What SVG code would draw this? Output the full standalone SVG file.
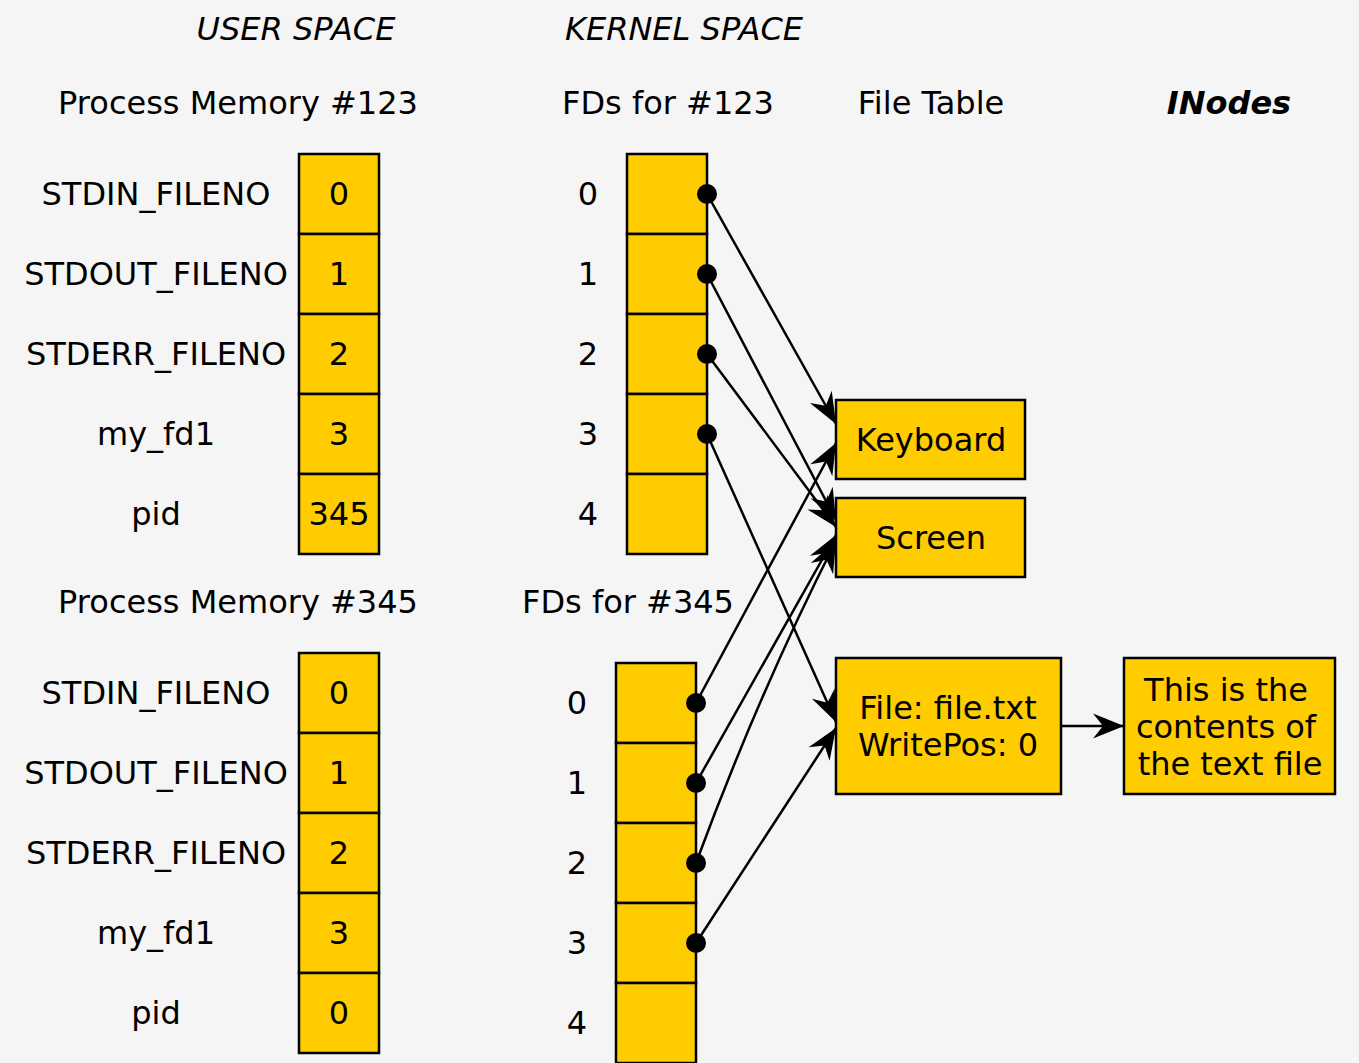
<svg xmlns="http://www.w3.org/2000/svg" width="1359" height="1063" viewBox="0 0 1359 1063">
<style>
text{font-family:"DejaVu Sans","Bitstream Vera Sans",sans-serif;font-size:32px;fill:#000}
.c{text-anchor:middle}
.cell{fill:#ffcc00;stroke:#000;stroke-width:2.5}
.box{fill:#ffcc00;stroke:#000;stroke-width:2.5}
.ln{fill:none;stroke:#000;stroke-width:2.5;marker-end:url(#ah)}
.dot{fill:#000}
</style>
<defs>
<marker id="ah" viewBox="-34 -15 36 30" refX="0" refY="0" markerWidth="36" markerHeight="30" markerUnits="userSpaceOnUse" orient="auto">
<path d="M0,0 L-31,-12.5 L-21,0 L-31,12.5 Z" fill="#000"/>
</marker>
</defs>
<rect width="1359" height="1063" fill="#f5f5f5"/>

<g id="headers">
<text x="296" y="40" class="c" font-style="italic">USER SPACE</text>
<text x="684" y="40" class="c" font-style="italic">KERNEL SPACE</text>
<text x="238" y="114" class="c">Process Memory #123</text>
<text x="668" y="114" class="c">FDs for #123</text>
<text x="931" y="114" class="c">File Table</text>
<text x="1229" y="114" class="c" font-style="italic" font-weight="bold">INodes</text>
<text x="238" y="613" class="c">Process Memory #345</text>
<text x="628" y="613" class="c">FDs for #345</text>
</g>

<g id="mem123">
<rect class="cell" x="299" y="154" width="80" height="80"/>
<rect class="cell" x="299" y="234" width="80" height="80"/>
<rect class="cell" x="299" y="314" width="80" height="80"/>
<rect class="cell" x="299" y="394" width="80" height="80"/>
<rect class="cell" x="299" y="474" width="80" height="80"/>
<text x="339" y="205" class="c">0</text>
<text x="339" y="285" class="c">1</text>
<text x="339" y="365" class="c">2</text>
<text x="339" y="445" class="c">3</text>
<text x="339" y="525" class="c">345</text>
<text x="156" y="205" class="c">STDIN_FILENO</text>
<text x="156" y="285" class="c">STDOUT_FILENO</text>
<text x="156" y="365" class="c">STDERR_FILENO</text>
<text x="156" y="445" class="c">my_fd1</text>
<text x="156" y="525" class="c">pid</text>
</g>

<g id="mem345">
<rect class="cell" x="299" y="653" width="80" height="80"/>
<rect class="cell" x="299" y="733" width="80" height="80"/>
<rect class="cell" x="299" y="813" width="80" height="80"/>
<rect class="cell" x="299" y="893" width="80" height="80"/>
<rect class="cell" x="299" y="973" width="80" height="80"/>
<text x="339" y="704" class="c">0</text>
<text x="339" y="784" class="c">1</text>
<text x="339" y="864" class="c">2</text>
<text x="339" y="944" class="c">3</text>
<text x="339" y="1024" class="c">0</text>
<text x="156" y="704" class="c">STDIN_FILENO</text>
<text x="156" y="784" class="c">STDOUT_FILENO</text>
<text x="156" y="864" class="c">STDERR_FILENO</text>
<text x="156" y="944" class="c">my_fd1</text>
<text x="156" y="1024" class="c">pid</text>
</g>

<g id="fds123">
<rect class="cell" x="627" y="154" width="80" height="80"/>
<rect class="cell" x="627" y="234" width="80" height="80"/>
<rect class="cell" x="627" y="314" width="80" height="80"/>
<rect class="cell" x="627" y="394" width="80" height="80"/>
<rect class="cell" x="627" y="474" width="80" height="80"/>
<text x="588" y="205" class="c">0</text>
<text x="588" y="285" class="c">1</text>
<text x="588" y="365" class="c">2</text>
<text x="588" y="445" class="c">3</text>
<text x="588" y="525" class="c">4</text>
</g>

<g id="fds345">
<rect class="cell" x="616" y="663" width="80" height="80"/>
<rect class="cell" x="616" y="743" width="80" height="80"/>
<rect class="cell" x="616" y="823" width="80" height="80"/>
<rect class="cell" x="616" y="903" width="80" height="80"/>
<rect class="cell" x="616" y="983" width="80" height="80"/>
<text x="577" y="714" class="c">0</text>
<text x="577" y="794" class="c">1</text>
<text x="577" y="874" class="c">2</text>
<text x="577" y="954" class="c">3</text>
<text x="577" y="1034" class="c">4</text>
</g>

<g id="keyboard">
<rect class="box" x="836" y="400" width="189" height="79"/>
<text x="931" y="451" class="c">Keyboard</text>
</g>
<g id="screen">
<rect class="box" x="836" y="498" width="189" height="79"/>
<text x="931" y="549" class="c">Screen</text>
</g>
<g id="file">
<rect class="box" x="836" y="658" width="225" height="136"/>
<text x="948" y="719" class="c">File: file.txt</text>
<text x="948" y="756" class="c">WritePos: 0</text>
</g>
<g id="inode">
<rect class="box" x="1124" y="658" width="211" height="136"/>
<text x="1226" y="701" class="c">This is the</text>
<text x="1226" y="738" class="c">contents of</text>
<text x="1230" y="775" class="c">the text file</text>
</g>

<g id="connectors">
<path class="ln" d="M707,194 L836,424"/>
<path class="ln" d="M707,274 L836,520"/>
<path class="ln" d="M707,354 L836,527"/>
<path class="ln" d="M707,434 L836,722"/>
<path class="ln" d="M696,703 L836,443"/>
<path class="ln" d="M696,783 L836,535"/>
<path class="ln" d="M696,863 Q760,690 836,541"/>
<path class="ln" d="M696,943 L836,728"/>
<path class="ln" d="M1061,726 L1124,726"/>
<circle class="dot" cx="707" cy="194" r="10"/>
<circle class="dot" cx="707" cy="274" r="10"/>
<circle class="dot" cx="707" cy="354" r="10"/>
<circle class="dot" cx="707" cy="434" r="10"/>
<circle class="dot" cx="696" cy="703" r="10"/>
<circle class="dot" cx="696" cy="783" r="10"/>
<circle class="dot" cx="696" cy="863" r="10"/>
<circle class="dot" cx="696" cy="943" r="10"/>
</g>
</svg>
